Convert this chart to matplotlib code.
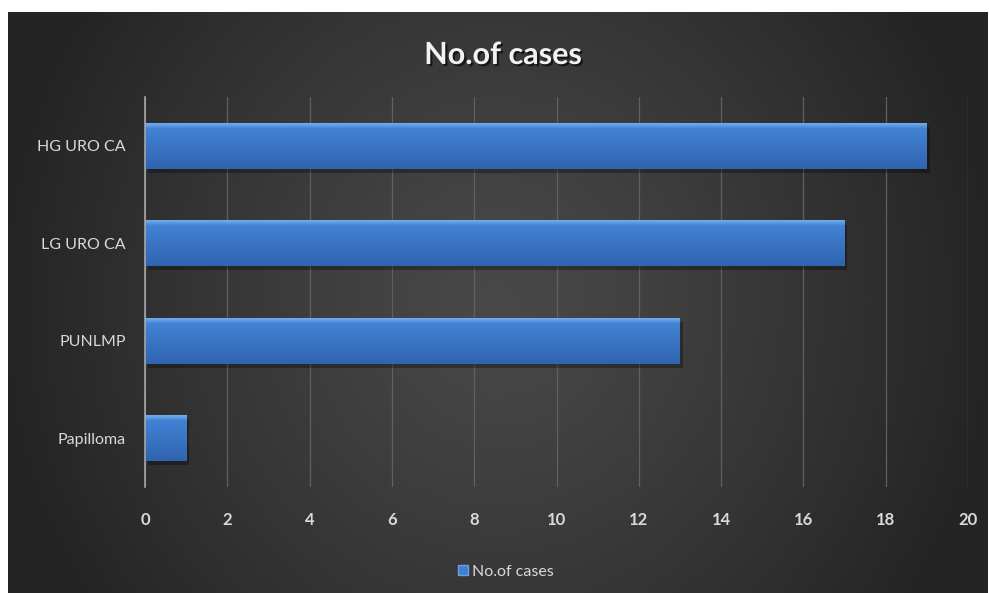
import numpy as np
import matplotlib
matplotlib.use("Agg")
import matplotlib.pyplot as plt
import matplotlib.patheffects as pe
from matplotlib.lines import Line2D

categories = ["Papilloma", "PUNLMP", "LG URO CA", "HG URO CA"]
values = [1, 13, 17, 19]
series_name = "No.of cases"
title = "No.of cases"
xticks = [0, 2, 4, 6, 8, 10, 12, 14, 16, 18, 20]

plt.rcParams['font.family'] = ['Lato', 'DejaVu Sans']

W, H = 989, 593
fig = plt.figure(figsize=(W / 100, H / 100), dpi=100, facecolor='white')

# background panel with radial-ish gradient
bg = fig.add_axes([8 / W, 0, 980 / W, 581 / H])
bg.set_axis_off()
ny, nx = 300, 500
yy, xx = np.mgrid[-1:1:ny * 1j, -1:1:nx * 1j]
r = np.sqrt((xx / 1.0) ** 2 + (yy / 1.8) ** 2)
r = np.clip(r, 0, 1)
light = 0.14 * (1 - r ** 1.2) + 0.145
bg.imshow(np.dstack([light, light, light]), aspect='auto', extent=[0, 1, 0, 1],
          interpolation='bilinear')
bg.set_xlim(0, 1)
bg.set_ylim(0, 1)

ax = fig.add_axes([145 / W, 1 - 487 / H, (968 - 145) / W, (487 - 97) / H])
ax.patch.set_alpha(0)
ypos = np.arange(len(categories))
bars = ax.barh(ypos, values, height=0.47, color='#3f7fcf', zorder=3,
               edgecolor='none')
for b in bars:
    b.set_path_effects([pe.SimplePatchShadow(offset=(2, -3), shadow_rgbFace='black', alpha=0.3),
                        pe.Normal()])
    x0, y0 = b.get_x(), b.get_y()
    w, h = b.get_width(), b.get_height()
    t = np.linspace(0, 1, 100)[:, None]
    top = np.array([0.45, 0.68, 0.93])
    mid = np.array([0.26, 0.51, 0.83])
    bot = np.array([0.19, 0.39, 0.69])
    cols = np.where(t < 0.12, top + (mid - top) * (t / 0.12),
                    mid + (bot - mid) * ((t - 0.12) / 0.88))
    img = np.repeat(cols[:, None, :], 2, axis=1)
    im = ax.imshow(img, extent=[x0, x0 + w, y0, y0 + h], origin='upper',
                   aspect='auto', zorder=4, interpolation='bilinear')
    im.set_clip_path(b)

ax.set_xlim(0, 20)
ax.set_ylim(-0.5, len(categories) - 0.5)
ax.set_xticks(xticks)
ax.set_yticks(ypos)
ax.set_yticklabels(categories)
ax.grid(axis='x', color='#606060', linewidth=0.9, zorder=0)
ax.grid(axis='y', visible=False)
for s in ['top', 'right', 'bottom']:
    ax.spines[s].set_visible(False)
ax.spines['left'].set_color('#a6a6a6')
ax.spines['left'].set_linewidth(1.2)
ax.spines['left'].set_zorder(5)
ax.tick_params(axis='x', length=0, pad=18, labelsize=12, labelcolor='#d9d9d9')
ax.tick_params(axis='y', length=0, pad=14, labelsize=11.5, labelcolor='#d9d9d9')
for lbl in ax.get_xticklabels():
    lbl.set_fontweight('bold')

fig.text(503 / W, 1 - 55 / H, title, ha='center', va='center', fontsize=22,
         fontweight='bold', color='#f2f2f2',
         path_effects=[pe.withSimplePatchShadow(offset=(1.5, -1.5), shadow_rgbFace='black', alpha=0.6)])

handle = Line2D([], [], marker='s', linestyle='none', markersize=7,
                markerfacecolor='#3f7fcf', markeredgecolor='#6aa0e0')
leg = fig.legend([handle], [series_name], loc='center', bbox_to_anchor=(505 / W, 1 - 572 / H),
                 frameon=False, fontsize=11.5, labelcolor='#d9d9d9',
                 handletextpad=0.2, handlelength=0.8)

fig.savefig('out.png', dpi=100, facecolor='white')
